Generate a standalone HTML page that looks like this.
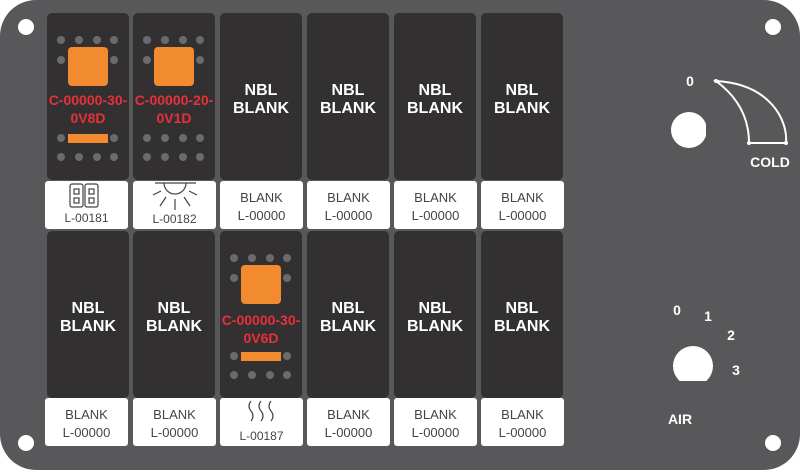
<!DOCTYPE html>
<html><head><meta charset="utf-8"><style>
html,body{margin:0;padding:0;background:#fff;width:800px;height:471px;overflow:hidden}
svg{display:block}
text{font-family:"Liberation Sans",sans-serif}
.b{font-weight:bold;fill:#fff;font-size:16px;text-anchor:middle}
.r{font-weight:bold;fill:#e8303a;font-size:14px;text-anchor:middle}
.l{fill:#444;font-size:13px;text-anchor:middle}
.k{font-weight:bold;fill:#fff;font-size:14px;text-anchor:middle}
</style></head><body>
<svg width="800" height="471" viewBox="0 0 800 471" xmlns="http://www.w3.org/2000/svg">
<defs>
<g id="dark"><rect x="0" y="0" width="82" height="167" rx="5" fill="#323031"/></g>
<g id="nbl"><use href="#dark"/><text class="b" x="41" y="82">NBL</text><text class="b" x="41" y="100">BLANK</text></g>
<g id="sw">
<use href="#dark"/>
<g fill="#6b6b6d">
<circle cx="14" cy="27" r="4"/><circle cx="32" cy="27" r="4"/><circle cx="50" cy="27" r="4"/><circle cx="67" cy="27" r="4"/>
<circle cx="14" cy="47" r="4"/><circle cx="67" cy="47" r="4"/>
<circle cx="14" cy="125" r="4"/><circle cx="67" cy="125" r="4"/>
<circle cx="14" cy="144" r="4"/><circle cx="32" cy="144" r="4"/><circle cx="50" cy="144" r="4"/><circle cx="67" cy="144" r="4"/>
</g>
<rect x="21" y="34" width="40" height="39" rx="4" fill="#f28a30"/>
</g>
<g id="bar"><rect x="21" y="121" width="40" height="9" fill="#f28a30"/></g>
<g id="dots2" fill="#6b6b6d"><circle cx="32" cy="125" r="4"/><circle cx="50" cy="125" r="4"/></g>
<g id="lbl"><rect x="0" y="0" width="83" height="48" rx="3" fill="#fff"/></g>
<g id="blank"><use href="#lbl"/><text class="l" x="41.5" y="21">BLANK</text><text class="l" x="41.5" y="39">L-00000</text></g>
</defs>
<rect x="0" y="0" width="800" height="470" rx="36" fill="#58585a"/>
<g fill="#fff">
<circle cx="26" cy="27" r="8"/><circle cx="773" cy="27" r="8"/><circle cx="26" cy="443" r="8"/><circle cx="773" cy="443" r="8"/>
</g>

<g transform="translate(47,13)"><use href="#sw"/><use href="#bar"/><text class="r" x="41" y="92">C-00000-30-</text><text class="r" x="41" y="110">0V8D</text></g>
<g transform="translate(133,13)"><use href="#sw"/><use href="#dots2"/><text class="r" x="41" y="92">C-00000-20-</text><text class="r" x="41" y="110">0V1D</text></g>
<g transform="translate(220,13)"><use href="#nbl"/></g>
<g transform="translate(307,13)"><use href="#nbl"/></g>
<g transform="translate(394,13)"><use href="#nbl"/></g>
<g transform="translate(481,13)"><use href="#nbl"/></g>

<g transform="translate(45,181)"><use href="#lbl"/>
<g fill="none" stroke="#444" stroke-width="1.2">
<rect x="25" y="3" width="13" height="23" rx="2"/><rect x="40" y="3" width="13" height="23" rx="2"/>
<rect x="29" y="8" width="5" height="5"/><rect x="29" y="17" width="5" height="5"/>
<rect x="44" y="8" width="5" height="5"/><rect x="44" y="17" width="5" height="5"/>
</g>
<text class="l" x="41.5" y="41" style="font-size:12px">L-00181</text></g>
<g transform="translate(133,181)"><use href="#lbl"/>
<g fill="none" stroke="#444" stroke-width="1.2">
<line x1="22" y1="2" x2="63" y2="2"/><path d="M31 2 A11 11 0 0 0 53 2"/>
<line x1="28" y1="10" x2="20" y2="14"/><line x1="56" y1="10" x2="64" y2="14"/>
<line x1="33" y1="16" x2="27" y2="25"/><line x1="51" y1="16" x2="57" y2="25"/>
<line x1="42" y1="18" x2="42" y2="29"/>
</g>
<text class="l" x="41.5" y="42" style="font-size:12px">L-00182</text></g>
<g transform="translate(220,181)"><use href="#blank"/></g>
<g transform="translate(307,181)"><use href="#blank"/></g>
<g transform="translate(394,181)"><use href="#blank"/></g>
<g transform="translate(481,181)"><use href="#blank"/></g>

<g transform="translate(47,231)"><use href="#nbl"/></g>
<g transform="translate(133,231)"><use href="#nbl"/></g>
<g transform="translate(220,231)"><use href="#sw"/><use href="#bar"/><text class="r" x="41" y="94">C-00000-30-</text><text class="r" x="41" y="112">0V6D</text></g>
<g transform="translate(307,231)"><use href="#nbl"/></g>
<g transform="translate(394,231)"><use href="#nbl"/></g>
<g transform="translate(481,231)"><use href="#nbl"/></g>

<g transform="translate(45,398)"><use href="#blank"/></g>
<g transform="translate(133,398)"><use href="#blank"/></g>
<g transform="translate(220,398)"><use href="#lbl"/>
<g fill="none" stroke="#444" stroke-width="1.2">
<path d="M31 3 q-4 5 0 10 q4 5 0 10"/><path d="M41 3 q-4 5 0 10 q4 5 0 10"/><path d="M51 3 q-4 5 0 10 q4 5 0 10"/>
</g>
<text class="l" x="41.5" y="42" style="font-size:12px">L-00187</text></g>
<g transform="translate(307,398)"><use href="#blank"/></g>
<g transform="translate(394,398)"><use href="#blank"/></g>
<g transform="translate(481,398)"><use href="#blank"/></g>

<text class="k" x="690" y="86">0</text>
<clipPath id="c1"><rect x="660" y="100" width="46" height="60"/></clipPath>
<circle cx="689" cy="130" r="18" fill="#fff" clip-path="url(#c1)"/>
<path d="M716 81 C770 84 788 120 786 143 L749 143 C749 115 735 95 716 81 Z" fill="none" stroke="#fff" stroke-width="2"/>
<g fill="#fff"><circle cx="716" cy="81" r="2"/><circle cx="749" cy="143" r="2"/><circle cx="786" cy="143" r="2"/></g>
<text class="k" x="770" y="167">COLD</text>

<text class="k" x="677" y="315">0</text>
<text class="k" x="708" y="321">1</text>
<text class="k" x="731" y="340">2</text>
<text class="k" x="736" y="375">3</text>
<clipPath id="c2"><rect x="660" y="340" width="70" height="41"/></clipPath>
<circle cx="693" cy="366" r="20" fill="#fff" clip-path="url(#c2)"/>
<text class="k" x="680" y="424">AIR</text>
</svg>
</body></html>
